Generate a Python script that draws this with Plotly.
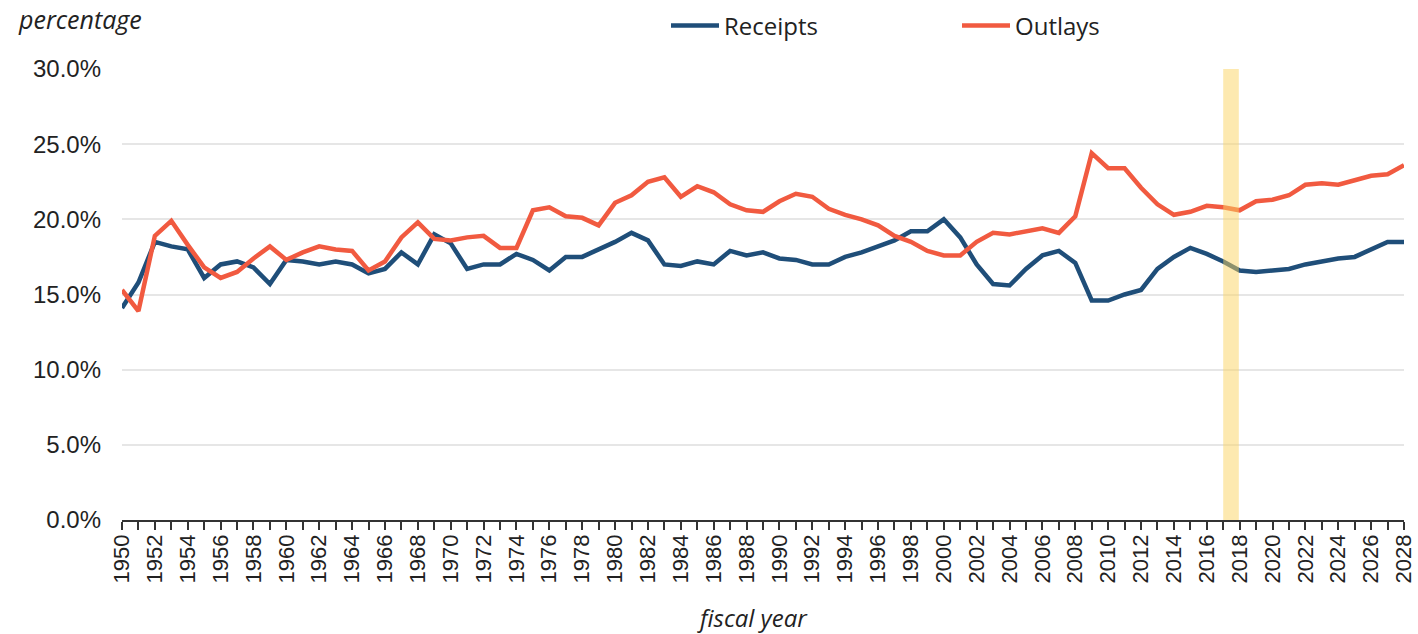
import plotly.graph_objects as go

years = list(range(1950, 2029))

receipts = [
    14.1, 15.8, 18.5, 18.2, 18.0, 16.1, 17.0, 17.2, 16.8, 15.7,  # 1950-1959
    17.3, 17.2, 17.0, 17.2, 17.0, 16.4, 16.7, 17.8, 17.0, 19.0,  # 1960-1969
    18.4, 16.7, 17.0, 17.0, 17.7, 17.3, 16.6, 17.5, 17.5, 18.0,  # 1970-1979
    18.5, 19.1, 18.6, 17.0, 16.9, 17.2, 17.0, 17.9, 17.6, 17.8,  # 1980-1989
    17.4, 17.3, 17.0, 17.0, 17.5, 17.8, 18.2, 18.6, 19.2, 19.2,  # 1990-1999
    20.0, 18.8, 17.0, 15.7, 15.6, 16.7, 17.6, 17.9, 17.1, 14.6,  # 2000-2009
    14.6, 15.0, 15.3, 16.7, 17.5, 18.1, 17.7, 17.2, 16.6, 16.5,  # 2010-2019
    16.6, 16.7, 17.0, 17.2, 17.4, 17.5, 18.0, 18.5, 18.5,        # 2020-2028
]

outlays = [
    15.3, 13.9, 18.9, 19.9, 18.3, 16.8, 16.1, 16.5, 17.4, 18.2,  # 1950-1959
    17.3, 17.8, 18.2, 18.0, 17.9, 16.6, 17.2, 18.8, 19.8, 18.7,  # 1960-1969
    18.6, 18.8, 18.9, 18.1, 18.1, 20.6, 20.8, 20.2, 20.1, 19.6,  # 1970-1979
    21.1, 21.6, 22.5, 22.8, 21.5, 22.2, 21.8, 21.0, 20.6, 20.5,  # 1980-1989
    21.2, 21.7, 21.5, 20.7, 20.3, 20.0, 19.6, 18.9, 18.5, 17.9,  # 1990-1999
    17.6, 17.6, 18.5, 19.1, 19.0, 19.2, 19.4, 19.1, 20.2, 24.4,  # 2000-2009
    23.4, 23.4, 22.1, 21.0, 20.3, 20.5, 20.9, 20.8, 20.6, 21.2,  # 2010-2019
    21.3, 21.6, 22.3, 22.4, 22.3, 22.6, 22.9, 23.0, 23.6,        # 2020-2028
]

x_tick_labels = [str(y) if y % 2 == 0 else "" for y in years]
highlight_year = 2017
y_ticks = [0, 5, 10, 15, 20, 25, 30]
y_tick_labels = ["0.0%", "5.0%", "10.0%", "15.0%", "20.0%", "25.0%", "30.0%"]

BLUE = "#1f4e79"
ORANGE = "#f15a40"
TXT_FONT = "Open Sans"
AX_FONT = "Liberation Sans"

W, H = 1418, 634
L, R, T, B = 122, 14, 69, 114.4
PW = W - L - R
PH = H - T - B

fig = go.Figure()
fig.add_trace(go.Scatter(x=years, y=receipts, mode="lines", name="Receipts",
                         line=dict(color=BLUE, width=4.5)))
fig.add_trace(go.Scatter(x=years, y=outlays, mode="lines", name="Outlays",
                         line=dict(color=ORANGE, width=4.5)))

# highlighted year band (semi-transparent, above the lines)
fig.add_shape(type="rect", xref="x", yref="y",
              x0=highlight_year, x1=highlight_year + 0.95, y0=0, y1=30,
              fillcolor="rgba(251,211,97,0.5)", line=dict(width=0), layer="above")

fig.update_layout(
    width=W, height=H,
    margin=dict(l=L, r=R, t=T, b=B, autoexpand=False),
    plot_bgcolor="white", paper_bgcolor="white",
    showlegend=True,
    legend=dict(orientation="h", xref="container", yref="container",
                x=666 / W, xanchor="left", y=1 - 26 / H, yanchor="middle",
                font=dict(family=TXT_FONT, size=24, color="#222222"),
                itemwidth=48, entrywidth=228, entrywidthmode="pixels",
                bgcolor="rgba(0,0,0,0)"),
    xaxis=dict(range=[1950, 2028], tickmode="array", tickvals=years, ticktext=x_tick_labels,
               tickangle=-90, ticks="outside", ticklen=8, tickwidth=1.5, tickcolor="#333333",
               ticklabelstandoff=-4, automargin=False,
               showline=True, linecolor="#333333", linewidth=1.5, showgrid=False, zeroline=False,
               tickfont=dict(family=AX_FONT, size=22, color="#222222")),
    yaxis=dict(range=[0, 30], tickmode="array", tickvals=y_ticks, ticktext=y_tick_labels,
               ticks="", ticklabelstandoff=20, automargin=False,
               showgrid=True, gridcolor="#e6e6e6", gridwidth=2, zeroline=False, showline=False,
               tickfont=dict(family=AX_FONT, size=24, color="#222222")),
    annotations=[
        dict(text="<i>percentage</i>", xref="paper", yref="paper",
             x=(16 - L) / PW, y=1 + (T - 19) / PH, xanchor="left", yanchor="middle",
             showarrow=False, font=dict(family=TXT_FONT, size=25, color="#222222")),
        dict(text="<i>fiscal year</i>", xref="paper", yref="paper",
             x=(752 - L) / PW, y=(PH + T - 617) / PH, xanchor="center", yanchor="middle",
             showarrow=False, font=dict(family=TXT_FONT, size=24, color="#222222")),
    ],
)

# remove the browser's default 8px page margin so the figure fills the window exactly
fig.write_html("out.html", config={"displayModeBar": False},
               post_script="document.body.style.margin='0';")
